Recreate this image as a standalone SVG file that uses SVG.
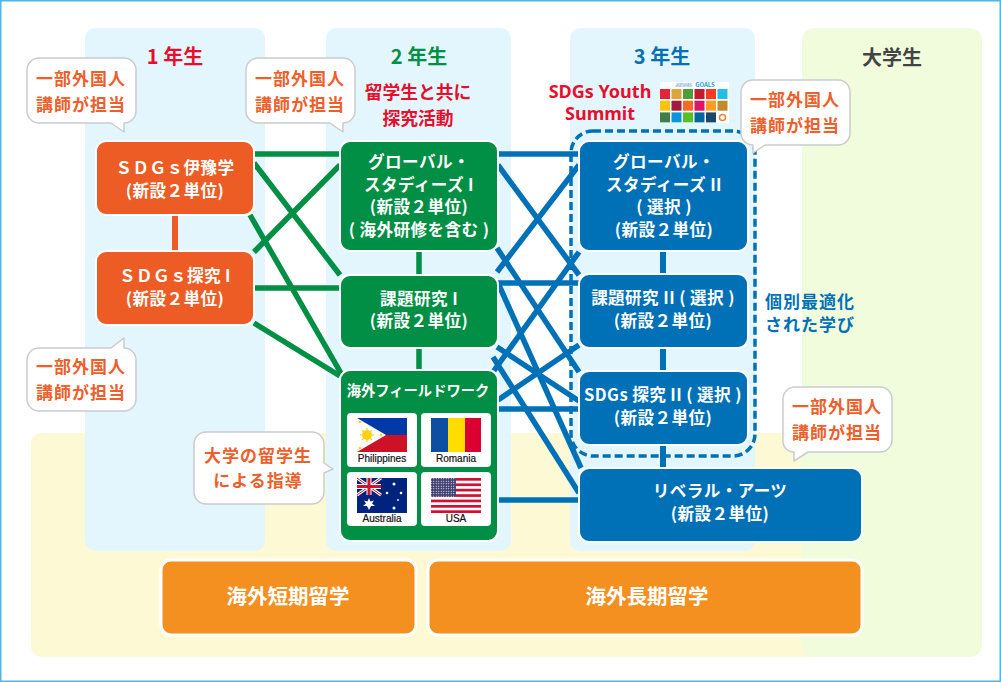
<svg xmlns="http://www.w3.org/2000/svg" width="1001" height="682" viewBox="0 0 1001 682">
<defs>
<style>
text{font-family:"Noto Sans CJK JP","Noto Sans",sans-serif;font-weight:700;text-anchor:middle}
.n{fill:#fff;font-size:16.6px;letter-spacing:.4px}
.c{fill:#ee5f2b;font-size:17px;letter-spacing:1px}
.t{font-size:20px}
.box{stroke:#fff;stroke-width:2}
.blue{fill:#0071b7}.green{fill:#018e45}.orange{fill:#ec5c24}.amber{fill:#f39020}
.call{fill:#fff;stroke:#cccccc;stroke-width:1.5;stroke-linejoin:round}
.col{fill:#e3f6fe}
.tile{fill:#fff}
.fl{font-family:"Liberation Sans",Arial,sans-serif;font-size:10px;font-weight:400;fill:#111;stroke:#111;stroke-width:.2}
.g line{stroke:#018e45;stroke-width:5.5}
.b line{stroke:#0071b7;stroke-width:5.5}
</style>
<pattern id="stars" width="2.500" height="2.500" patternUnits="userSpaceOnUse"><rect width="2.500" height="2.500" fill="#3c3b6e"/><circle cx="1.250" cy="1.250" r=".6" fill="#fff"/></pattern>
</defs>
<rect x="0" y="0" width="1001" height="682" fill="#fff"/>
<rect x=".75" y=".75" width="999.5" height="680.5" fill="none" stroke="#4db8e6" stroke-width="1.5"/>
<g id="backgrounds">
<rect x="31" y="433" width="790" height="224" rx="10" fill="#fef9d5"/>
<rect x="802" y="28" width="180" height="629" rx="12" fill="#f0fcdc"/>
<rect class="col" x="85" y="28" width="180" height="523" rx="10"/>
<rect class="col" x="326" y="28" width="185" height="523" rx="10"/>
<rect class="col" x="570" y="28" width="185" height="523" rx="10"/>
</g>
<g id="column-titles">
<text class="t" x="175" y="64" fill="#e60f2d">1 年生</text>
<text class="t" x="419" y="64" fill="#018e45">2 年生</text>
<text class="t" x="662" y="64" fill="#0071b7">3 年生</text>
<text class="t" x="892" y="65" fill="#444">大学生</text>
<text font-size="17.800" fill="#e60f2d"><tspan x="418" y="99">留学生と共に</tspan><tspan x="418" y="125">探究活動</tspan></text>
<text font-size="18" fill="#e60f2d" style="font-family:'Noto Sans',sans-serif;font-weight:700"><tspan x="600" y="98">SDGs Youth</tspan><tspan x="600" y="120">Summit</tspan></text>
<text font-size="17" fill="#0071b7" letter-spacing="1"><tspan x="810" y="308">個別最適化</tspan><tspan x="810" y="331">された学び</tspan></text>
</g>
<g id="sdg-goals">
<rect x="660" y="82" width="69" height="41" fill="#fff"/>
<text x="684" y="88" style="font-size:2.400px;font-weight:400" fill="#4a7fc0"><tspan x="684" y="84.500">SUSTAINABLE</tspan><tspan x="684" y="87.300">DEVELOPMENT</tspan></text>
<text x="705" y="87.300" style="font-size:6px" fill="#1f9bd9">GOALS</text>
<g>
<rect x="660" y="89" width="10" height="10" fill="#e5243b"/><rect x="671.500" y="89" width="10" height="10" fill="#dda63a"/><rect x="683" y="89" width="10" height="10" fill="#4c9f38"/><rect x="694.500" y="89" width="10" height="10" fill="#c5192d"/><rect x="706" y="89" width="10" height="10" fill="#ff3a21"/><rect x="717.500" y="89" width="10" height="10" fill="#26bde2"/>
<rect x="660" y="100.700" width="10" height="10" fill="#fcc30b"/><rect x="671.500" y="100.700" width="10" height="10" fill="#a21942"/><rect x="683" y="100.700" width="10" height="10" fill="#fd6925"/><rect x="694.500" y="100.700" width="10" height="10" fill="#dd1367"/><rect x="706" y="100.700" width="10" height="10" fill="#fd9d24"/><rect x="717.500" y="100.700" width="10" height="10" fill="#bf8b2e"/>
<rect x="660" y="112.400" width="10" height="10" fill="#3f7e44"/><rect x="671.500" y="112.400" width="10" height="10" fill="#0a97d9"/><rect x="683" y="112.400" width="10" height="10" fill="#56c02b"/><rect x="694.500" y="112.400" width="10" height="10" fill="#00689d"/><rect x="706" y="112.400" width="10" height="10" fill="#19486a"/>
<circle cx="722.500" cy="117.400" r="3" fill="none" stroke="#e5843b" stroke-width="1.500"/>
</g>
</g>
<g id="connectors">
<g class="g">
<line x1="254" y1="154" x2="340" y2="154"/>
<line x1="254" y1="163" x2="340" y2="275"/>
<line x1="340" y1="165" x2="254" y2="252"/>
<line x1="254" y1="288" x2="340" y2="288"/>
<line x1="250" y1="215" x2="342" y2="375"/>
<line x1="254" y1="323" x2="340" y2="376"/>
<line x1="419" y1="251" x2="419" y2="275"/>
<line x1="419" y1="348" x2="419" y2="370"/>
</g>
<line x1="175" y1="215" x2="175" y2="251" stroke="#ec5c24" stroke-width="6"/>
<g class="b">
<line x1="498" y1="154" x2="579" y2="154"/>
<line x1="498" y1="165" x2="579" y2="275"/>
<line x1="579" y1="165" x2="497" y2="272"/>
<line x1="497" y1="248" x2="579" y2="372"/>
<line x1="498" y1="283" x2="579" y2="283"/>
<line x1="498" y1="283" x2="581" y2="468"/>
<line x1="497" y1="347" x2="579" y2="401"/>
<line x1="493" y1="357" x2="579" y2="493"/>
<line x1="493" y1="372" x2="579" y2="252"/>
<line x1="498" y1="400" x2="579" y2="345"/>
<line x1="498" y1="409" x2="579" y2="409"/>
<line x1="498" y1="500" x2="579" y2="500"/>
<line x1="663" y1="250" x2="663" y2="274" style="stroke-width:6"/>
<line x1="663" y1="348" x2="663" y2="371" style="stroke-width:6"/>
<line x1="663" y1="445" x2="663" y2="468" style="stroke-width:6"/>
</g>
</g>
<g id="node-sdgs-iyo"><rect class="box orange" x="96" y="141" width="158" height="74" rx="10"/><text class="n"><tspan x="175" y="174">ＳＤＧｓ伊豫学</tspan><tspan x="175" y="197">(新設２単位)</tspan></text></g>
<g id="node-sdgs-tankyu1"><rect class="box orange" x="96" y="251" width="158" height="74" rx="10"/><text class="n"><tspan x="175" y="281.500">ＳＤＧｓ探究 I</tspan><tspan x="175" y="304.500">(新設２単位)</tspan></text></g>
<g id="node-global1"><rect class="box green" x="340" y="141" width="158" height="110" rx="10"/><text class="n"><tspan x="419" y="167.500">グローバル・</tspan><tspan x="419" y="190.500">スタディーズ I</tspan><tspan x="419" y="213">(新設２単位)</tspan><tspan x="419" y="236">( 海外研修を含む )</tspan></text></g>
<g id="node-kadai1"><rect class="box green" x="340" y="275" width="158" height="73" rx="10"/><text class="n"><tspan x="419" y="304.500">課題研究 I</tspan><tspan x="419" y="327">(新設２単位)</tspan></text></g>
<g id="node-field"><rect class="box green" x="340" y="370" width="158" height="171" rx="10"/><text x="418" y="396" font-size="14.300" fill="#fff">海外フィールドワーク</text>
<rect class="tile" x="347" y="413" width="70" height="54" rx="4"/><rect class="tile" x="421" y="413" width="70" height="54" rx="4"/><rect class="tile" x="347" y="472" width="70" height="54" rx="4"/><rect class="tile" x="421" y="472" width="70" height="54" rx="4"/>
<g id="flag-ph"><rect x="357" y="418" width="50" height="17" fill="#0038a8"/><rect x="357" y="435" width="50" height="17" fill="#ce1126"/><polygon points="357,418 386,435 357,452" fill="#fff"/><circle cx="367" cy="435" r="5" fill="#fcd116"/><g stroke="#fcd116" stroke-width="1.2"><line x1="360" y1="435" x2="374" y2="435"/><line x1="367" y1="428" x2="367" y2="442"/><line x1="362" y1="430" x2="372" y2="440"/><line x1="362" y1="440" x2="372" y2="430"/></g><circle cx="360" cy="422" r="1.300" fill="#fcd116"/><circle cx="360" cy="448" r="1.300" fill="#fcd116"/><circle cx="381" cy="435" r="1.300" fill="#fcd116"/></g>
<text class="fl" x="382" y="462">Philippines</text>
<g id="flag-ro"><rect x="431" y="418" width="17" height="34" fill="#0b4ea2"/><rect x="448" y="418" width="17" height="34" fill="#ffdd00"/><rect x="465" y="418" width="16" height="34" fill="#dc0032"/></g>
<text class="fl" x="456" y="462">Romania</text>
<g id="flag-au"><rect x="357" y="478" width="50" height="35" fill="#00247d"/><g stroke="#fff" stroke-width="3"><line x1="357" y1="478" x2="381" y2="495"/><line x1="381" y1="478" x2="357" y2="495"/></g><g stroke="#cf142b" stroke-width="1"><line x1="357" y1="478" x2="381" y2="495"/><line x1="381" y1="478" x2="357" y2="495"/></g><rect x="357" y="484" width="24" height="5" fill="#fff"/><rect x="366.500" y="478" width="5" height="17" fill="#fff"/><rect x="357" y="485" width="24" height="3" fill="#cf142b"/><rect x="367.500" y="478" width="3" height="17" fill="#cf142b"/><polygon points="369,498 370.500,501.500 374,500.500 372,503.500 375,506 371,506 369,510 367,506 363,506 366,503.500 364,500.500 367.500,501.500" fill="#fff"/><g fill="#fff"><circle cx="394" cy="484" r="1.500"/><circle cx="387" cy="493" r="1.300"/><circle cx="401" cy="493" r="1.300"/><circle cx="398" cy="500" r=".9"/><circle cx="394" cy="508" r="1.500"/></g></g>
<text class="fl" x="382" y="522">Australia</text>
<g id="flag-us"><rect x="431" y="478" width="50" height="35" fill="#fff"/><g fill="#d21034"><rect x="431" y="478" width="50" height="2.700"/><rect x="431" y="483.400" width="50" height="2.700"/><rect x="431" y="488.800" width="50" height="2.700"/><rect x="431" y="494.200" width="50" height="2.700"/><rect x="431" y="499.600" width="50" height="2.700"/><rect x="431" y="505" width="50" height="2.700"/><rect x="431" y="510.300" width="50" height="2.700"/></g><rect x="431" y="478" width="25" height="18.900" fill="url(#stars)"/></g>
<text class="fl" x="456" y="522">USA</text>
</g>
<g id="node-global2"><rect class="box blue" x="579" y="141" width="169" height="110" rx="10"/><text class="n"><tspan x="664" y="167.500">グローバル・</tspan><tspan x="664" y="190.500">スタディーズ II</tspan><tspan x="664" y="213">( 選択 )</tspan><tspan x="664" y="236">(新設２単位)</tspan></text></g>
<g id="node-kadai2"><rect class="box blue" x="579" y="274" width="169" height="74" rx="10"/><text class="n"><tspan x="663" y="304">課題研究 II ( 選択 )</tspan><tspan x="663" y="326.500">(新設２単位)</tspan></text></g>
<g id="node-sdgs-tankyu2"><rect class="box blue" x="579" y="371" width="169" height="74" rx="10"/><text class="n"><tspan x="663" y="401">SDGs 探究 II ( 選択 )</tspan><tspan x="663" y="423.500">(新設２単位)</tspan></text></g>
<rect id="individual-frame" x="571" y="131" width="184" height="325" rx="22" fill="none" stroke="#0071b7" stroke-width="3.500" stroke-dasharray="8 4"/>
<g id="node-liberal"><rect class="box blue" x="579" y="468" width="283" height="74" rx="10"/><text class="n"><tspan x="720" y="497">リベラル・アーツ</tspan><tspan x="720" y="519.500">(新設２単位)</tspan></text></g>
<g id="node-short"><rect class="box amber" x="161" y="560" width="255" height="75" rx="10" style="stroke-width:3"/><text x="288" y="604" font-size="20.500" fill="#fff">海外短期留学</text></g>
<g id="node-long"><rect class="box amber" x="428" y="560" width="434" height="75" rx="10" style="stroke-width:3"/><text x="647" y="604" font-size="20.500" fill="#fff">海外長期留学</text></g>
<g id="callout-1"><path class="call" d="M39 58H124a12 12 0 0 1 12 12V111a12 12 0 0 1-12 12V132L111 123H39a12 12 0 0 1-12-12V70a12 12 0 0 1 12-12Z"/><text class="c"><tspan x="81" y="85">一部外国人</tspan><tspan x="81" y="111">講師が担当</tspan></text></g>
<g id="callout-2"><path class="call" d="M258 58H343a12 12 0 0 1 12 12V111a12 12 0 0 1-12 12V132L330 123H258a12 12 0 0 1-12-12V70a12 12 0 0 1 12-12Z"/><text class="c"><tspan x="300" y="85">一部外国人</tspan><tspan x="300" y="111">講師が担当</tspan></text></g>
<g id="callout-3"><path class="call" d="M752 80H838a12 12 0 0 1 12 12V133a12 12 0 0 1-12 12H765L753 153V145a12 12 0 0 1-12-12V92a12 12 0 0 1 12-12Z"/><text class="c"><tspan x="795" y="106">一部外国人</tspan><tspan x="795" y="132">講師が担当</tspan></text></g>
<g id="callout-4"><path class="call" d="M39 348H111L124 338V348a12 12 0 0 1 12 12V399a12 12 0 0 1-12 12H39a12 12 0 0 1-12-12V360a12 12 0 0 1 12-12Z"/><text class="c"><tspan x="81" y="373">一部外国人</tspan><tspan x="81" y="399">講師が担当</tspan></text></g>
<g id="callout-5"><path class="call" d="M795 387H880a12 12 0 0 1 12 12V440a12 12 0 0 1-12 12H808L794 461V452a11 11 0 0 1-11-12V399a12 12 0 0 1 12-12Z"/><text class="c"><tspan x="837" y="413">一部外国人</tspan><tspan x="837" y="439">講師が担当</tspan></text></g>
<g id="callout-6"><path class="call" d="M206 432H312a12 12 0 0 1 12 12V463L333 469L324 473V492a12 12 0 0 1-12 12H206a12 12 0 0 1-12-12V444a12 12 0 0 1 12-12Z"/><text class="c"><tspan x="258" y="462">大学の留学生</tspan><tspan x="258" y="487">による指導</tspan></text></g>
</svg>
